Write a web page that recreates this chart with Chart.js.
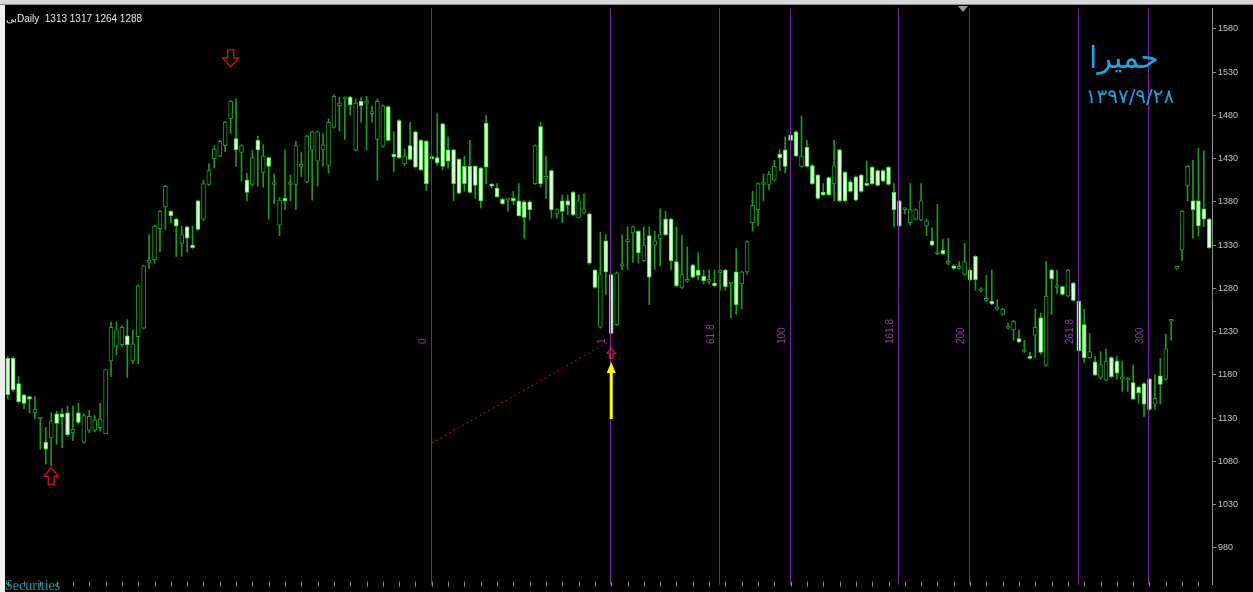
<!DOCTYPE html>
<html>
<head>
<meta charset="utf-8">
<script src="https://cdn.jsdelivr.net/npm/chart.js@4.4.1/dist/chart.umd.min.js"></script>
<style>
  html, body { margin: 0; padding: 0; background: #000; overflow: hidden; }
  #wrap { width: 1253px; height: 592px; }
</style>
</head>
<body>
<div id="wrap"><canvas id="priceChart" width="1253" height="592"></canvas></div>
<script>
// daily OHLC (oldest first)
const OPEN = [1199,1199,1170,1157,1155,1136,1129,1102,1107,1135,1135,1136,1113,1136,1102,1116,1116,1119,1112,1196,
  1213,1215,1225,1196,1224,1234,1310,1313,1349,1374,1369,1360,1332,1351,1330,1381,1360,1400,1430,1433,
  1445,1476,1453,1437,1405,1400,1451,1414,1431,1400,1353,1384,1400,1400,1421,1403,1440,1427,1440,1422,
  1466,1491,1499,1501,1440,1496,1494,1482,1452,1444,1490,1435,1474,1424,1445,1461,1451,1450,1431,1431,
  1470,1440,1440,1429,1421,1421,1421,1419,1471,1400,1396,1383,1382,1384,1381,1380,1380,1401,1467,1407,
  1416,1366,1381,1381,1391,1362,1367,1366,1301,1235,1335,1296,1238,1306,1334,1344,1346,1312,1341,1330,
  1337,1360,1360,1311,1281,1288,1307,1301,1294,1288,1286,1298,1301,1285,1299,1285,1299,1356,1371,1400,
  1400,1405,1435,1440,1457,1461,1421,1443,1422,1411,1391,1408,1401,1440,1414,1403,1409,1411,1401,1420,
  1416,1416,1420,1391,1381,1371,1356,1360,1359,1352,1335,1320,1324,1309,1306,1303,1296,1301,1317,1277,
  1266,1265,1256,1250,1234,1232,1222,1207,1200,1226,1246,1191,1301,1281,1282,1271,1286,1265,1238,1200,
  1195,1177,1174,1200,1196,1175,1174,1171,1166,1170,1175,1146,1179,1175,1242,1303,1324,1399,1381,1381,
  1372,1360];
const HIGH = [1201,1201,1178,1157,1155,1155,1130,1119,1136,1138,1141,1144,1144,1147,1135,1139,1133,1147,1186,1241,
  1241,1237,1244,1232,1284,1307,1342,1353,1370,1399,1370,1361,1352,1352,1352,1382,1405,1424,1445,1451,
  1473,1497,1499,1446,1413,1440,1456,1446,1432,1412,1385,1440,1411,1450,1437,1457,1462,1462,1459,1476,
  1504,1501,1501,1502,1499,1501,1502,1491,1499,1492,1491,1461,1475,1441,1472,1462,1452,1451,1432,1482,
  1471,1455,1441,1430,1433,1451,1422,1420,1480,1401,1401,1384,1383,1392,1401,1381,1381,1446,1472,1433,
  1417,1372,1388,1388,1392,1388,1389,1367,1302,1345,1342,1297,1299,1342,1351,1352,1347,1351,1351,1346,
  1372,1369,1361,1351,1341,1328,1308,1321,1301,1301,1301,1302,1302,1286,1326,1300,1335,1392,1402,1412,
  1415,1428,1440,1455,1458,1462,1479,1451,1423,1412,1401,1409,1451,1441,1415,1405,1410,1412,1427,1421,
  1417,1417,1421,1401,1382,1372,1401,1372,1401,1360,1350,1377,1337,1338,1307,1311,1332,1302,1318,1281,
  1295,1301,1267,1257,1240,1243,1232,1220,1206,1256,1251,1311,1302,1301,1283,1302,1287,1266,1256,1228,
  1201,1207,1210,1201,1201,1196,1177,1191,1167,1171,1176,1180,1199,1227,1243,1304,1370,1422,1428,1442,
  1439,1361];
const LOW = [1152,1161,1147,1141,1136,1129,1094,1077,1075,1100,1096,1109,1104,1123,1101,1113,1114,1115,1112,1178,
  1203,1213,1177,1193,1193,1233,1303,1309,1322,1348,1356,1317,1317,1322,1326,1347,1358,1399,1419,1432,
  1438,1459,1421,1404,1381,1398,1398,1397,1360,1378,1341,1371,1381,1371,1409,1402,1382,1398,1421,1413,
  1465,1462,1452,1480,1439,1472,1440,1472,1405,1443,1450,1415,1430,1422,1428,1419,1416,1393,1429,1422,
  1417,1419,1381,1389,1392,1390,1384,1373,1401,1396,1385,1377,1369,1377,1363,1338,1359,1400,1397,1384,
  1361,1361,1356,1365,1364,1361,1366,1308,1280,1234,1273,1227,1237,1302,1302,1310,1309,1311,1261,1302,
  1306,1341,1302,1282,1280,1287,1292,1290,1285,1285,1282,1278,1278,1246,1250,1256,1296,1346,1352,1381,
  1394,1404,1416,1413,1450,1432,1420,1420,1400,1383,1387,1387,1381,1380,1380,1391,1381,1391,1398,1400,
  1398,1403,1399,1351,1351,1366,1353,1359,1358,1341,1329,1319,1319,1307,1302,1302,1295,1289,1278,1276,
  1265,1261,1255,1249,1233,1220,1217,1206,1198,1200,1204,1190,1250,1274,1272,1270,1265,1207,1194,1199,
  1179,1175,1173,1177,1175,1161,1161,1151,1147,1132,1139,1140,1146,1174,1220,1302,1312,1381,1338,1341,
  1351,1326];
const CLOSE = [1157,1163,1149,1147,1152,1140,1129,1094,1127,1124,1131,1111,1117,1125,1133,1132,1128,1129,1186,1235,
  1232,1235,1215,1216,1283,1306,1312,1352,1369,1398,1364,1352,1342,1338,1327,1348,1401,1416,1441,1450,
  1472,1496,1440,1445,1391,1431,1440,1433,1421,1400,1382,1381,1400,1445,1421,1456,1461,1461,1446,1472,
  1502,1494,1499,1492,1494,1491,1494,1482,1496,1491,1451,1432,1431,1433,1429,1420,1417,1401,1430,1425,
  1421,1427,1401,1390,1401,1391,1399,1381,1420,1398,1386,1378,1382,1381,1364,1362,1371,1445,1401,1407,
  1371,1371,1369,1376,1365,1381,1372,1309,1281,1296,1299,1228,1298,1306,1336,1351,1321,1330,1293,1335,
  1342,1342,1312,1283,1296,1290,1293,1295,1289,1288,1283,1301,1282,1285,1261,1299,1334,1376,1401,1400,
  1412,1421,1431,1421,1451,1433,1433,1421,1401,1384,1388,1388,1422,1381,1381,1392,1382,1392,1399,1401,
  1399,1404,1400,1371,1352,1371,1371,1371,1381,1358,1330,1320,1320,1309,1303,1303,1311,1290,1290,1277,
  1266,1262,1256,1256,1234,1242,1218,1207,1199,1235,1206,1271,1291,1281,1273,1301,1266,1208,1200,1207,
  1180,1192,1196,1178,1182,1175,1176,1152,1159,1146,1140,1153,1169,1210,1242,1303,1369,1421,1371,1352,
  1360,1327];
const DAYS = OPEN.map((_, i) => String(i + 1));

const Y_TICKS = [980, 1030, 1080, 1130, 1180, 1230, 1280, 1330, 1380, 1430, 1480, 1530, 1580];

// fibonacci time zones: start bar, unit length in bars, ratios and their labels
const FIB_START = 78;
const FIB_UNIT = 33;
const FIB_RATIOS = [0, 1, 1.618, 2, 2.618, 3, 3.618, 4];
const FIB_LABELS = ['0', '1', '61.8', '100', '161.8', '200', '261.8', '300'];

// red dotted trend line: bar index and price at each end
const TREND_BARS = [78, 111];
const TREND_PRICES = [1101, 1220];

// markers: bar index and price at the arrow tip
const RED_UP = [{ bar: 8, price: 1073 }, { bar: 111, price: 1211 }];
const RED_DOWN = [{ bar: 41, price: 1536 }];
const YELLOW_UP = { bar: 111, tip: 1195, tail: 1129 };

const TITLE = 'حمیرا';
const DATE_TEXT = '۱۳۹۷/۹/۲۸';
const HEADER = 'بیDaily  1313 1317 1264 1288';

const isUp = DAYS.map((_, i) => CLOSE[i] >= OPEN[i]);
const trendData = DAYS.map((_, i) => {
  const k = TREND_BARS.indexOf(i);
  return k >= 0 ? TREND_PRICES[k] : null;
});

function arrowPath(ctx, x, yTip, dir, hw, hh, sw, len) {
  // dir = 1 for pointing up, -1 for pointing down
  ctx.beginPath();
  ctx.moveTo(x, yTip);
  ctx.lineTo(x + hw, yTip + dir * hh);
  ctx.lineTo(x + sw, yTip + dir * hh);
  ctx.lineTo(x + sw, yTip + dir * len);
  ctx.lineTo(x - sw, yTip + dir * len);
  ctx.lineTo(x - sw, yTip + dir * hh);
  ctx.lineTo(x - hw, yTip + dir * hh);
  ctx.closePath();
}

const decor = {
  id: 'decor',
  beforeDraw(chart) {
    const c = chart.ctx, w = chart.width, h = chart.height;
    c.save();
    c.fillStyle = '#000';
    c.fillRect(0, 0, w, h);
    c.fillStyle = '#f0f0f0';
    c.fillRect(0, 0, 5, h);
    c.fillStyle = '#d9d9d9';
    c.fillRect(0, 0, w, 4);
    c.fillStyle = '#8f8f8f';
    c.fillRect(0, 4, w, 1);
    c.fillStyle = '#9a9a9a';
    c.beginPath();
    c.moveTo(958, 6); c.lineTo(968, 6); c.lineTo(963, 12); c.closePath();
    c.fill();
    c.restore();
  },
  afterDatasetsDraw(chart) {
    const c = chart.ctx, x = chart.scales.x, y = chart.scales.y, a = chart.chartArea;
    c.save();
    // fib time lines
    c.strokeStyle = '#76259a';
    c.lineWidth = 1;
    FIB_RATIOS.forEach((r, k) => {
      const px = Math.round(x.getPixelForValue(Math.round(FIB_START + r * FIB_UNIT))) - 0.5;
      c.beginPath();
      c.moveTo(px, a.top);
      c.lineTo(px, a.bottom);
      c.stroke();
      c.save();
      c.translate(px - 3, 344);
      c.rotate(-Math.PI / 2);
      c.fillStyle = '#8b3fa0';
      c.font = '10px "Liberation Sans"';
      c.textAlign = 'left';
      c.textBaseline = 'bottom';
      c.fillText(FIB_LABELS[k], 0, 0);
      c.restore();
    });
    // small ticks along the bottom edge
    c.strokeStyle = '#8c8c8c';
    for (let i = 0; i < DAYS.length; i += 3) {
      const px = Math.round(x.getPixelForValue(i)) + 0.5;
      c.beginPath();
      c.moveTo(px, a.bottom - 3);
      c.lineTo(px, a.bottom + 2);
      c.stroke();
    }
    // red hollow arrows
    c.strokeStyle = '#e01010';
    c.lineWidth = 1.3;
    RED_UP.forEach(m => {
      const s = m.bar === 111 ? 0.6 : 1;
      arrowPath(c, x.getPixelForValue(m.bar), y.getPixelForValue(m.price), 1, 7 * s, 9 * s, 3 * s, 17 * s);
      c.stroke();
    });
    RED_DOWN.forEach(m => {
      arrowPath(c, x.getPixelForValue(m.bar), y.getPixelForValue(m.price), -1, 8, 9, 3, 17);
      c.stroke();
    });
    // yellow arrow
    const yx = x.getPixelForValue(YELLOW_UP.bar);
    const yt = y.getPixelForValue(YELLOW_UP.tip);
    const yb = y.getPixelForValue(YELLOW_UP.tail);
    c.fillStyle = '#ffff00';
    c.fillRect(yx - 1.5, yt + 8, 3, yb - yt - 8);
    c.beginPath();
    c.moveTo(yx, yt); c.lineTo(yx + 4.5, yt + 11); c.lineTo(yx - 4.5, yt + 11); c.closePath();
    c.fill();
    c.restore();
  },
  afterDraw(chart) {
    const c = chart.ctx;
    c.save();
    c.fillStyle = '#e8e8e8';
    c.font = '10px "Liberation Sans"';
    c.textBaseline = 'alphabetic';
    c.fillText(HEADER, 6, 22);
    c.fillStyle = '#20a2e4';
    c.textAlign = 'center';
    c.font = '30px "DejaVu Sans"';
    c.fillText(TITLE, 1124, 68);
    c.font = '20px "DejaVu Sans"';
    c.fillText(DATE_TEXT, 1130, 103);
    c.textAlign = 'left';
    c.fillStyle = '#1a9c9c';
    c.font = '14px "Liberation Serif"';
    c.fillText('Securities', 5, 590);
    c.restore();
  }
};

new Chart(document.getElementById('priceChart').getContext('2d'), {
  type: 'bar',
  data: {
    labels: DAYS,
    datasets: [
      {
        type: 'line',
        label: 'trend',
        data: trendData,
        spanGaps: true,
        borderColor: '#cc1818',
        borderWidth: 1,
        borderDash: [2, 3],
        pointRadius: 0,
        order: 0
      },
      {
        label: 'body',
        data: DAYS.map((_, i) => [OPEN[i], CLOSE[i]]),
        backgroundColor: isUp.map(u => u ? '#000000' : '#e6ffe0'),
        borderColor: isUp.map(u => u ? '#1f9c1f' : '#39e639'),
        borderWidth: 1,
        borderSkipped: false,
        barThickness: 4,
        minBarLength: 2,
        grouped: false,
        order: 1
      },
      {
        label: 'wick',
        data: DAYS.map((_, i) => [LOW[i], HIGH[i]]),
        backgroundColor: '#1c9a1c',
        borderWidth: 0,
        barThickness: 1,
        grouped: false,
        order: 2
      }
    ]
  },
  options: {
    responsive: false,
    animation: false,
    devicePixelRatio: 1,
    layout: { padding: { left: 5, top: 8, right: 0, bottom: 2 } },
    plugins: { legend: { display: false }, tooltip: { enabled: false } },
    scales: {
      x: { display: false, offset: true, grid: { offset: true } },
      y: {
        position: 'right',
        min: 937.6,
        max: 1604,
        afterFit(s) { s.width = 41; },
        afterBuildTicks(s) { s.ticks = Y_TICKS.map(v => ({ value: v })); },
        ticks: {
          color: '#c4c4c4',
          font: { family: 'Liberation Sans', size: 9 },
          padding: 2,
          autoSkip: false,
          callback: v => String(v)
        },
        grid: { drawOnChartArea: false, color: '#8c8c8c', tickLength: 4 },
        border: { color: '#8c8c8c' }
      }
    }
  },
  plugins: [decor]
});
</script>
</body>
</html>
